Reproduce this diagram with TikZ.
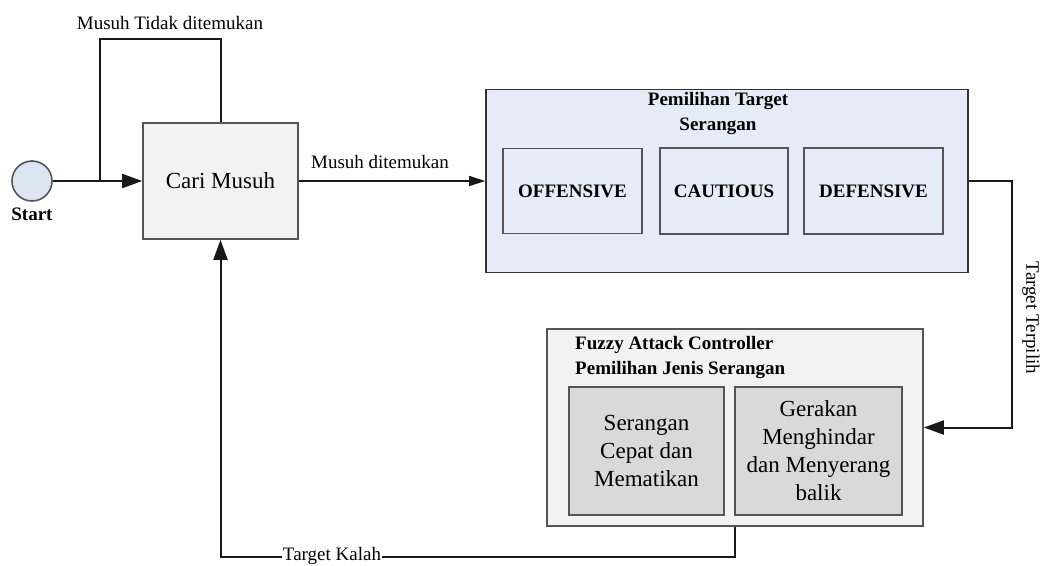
\documentclass[tikz,border=0pt]{standalone}
\usepackage{fontspec}
\setmainfont{Liberation Serif}
\usetikzlibrary{arrows.meta}

\definecolor{pilihblue}{HTML}{E6ECF7}
\definecolor{startblue}{HTML}{DCE6F2}
\definecolor{boxgray}{HTML}{F2F2F2}
\definecolor{innergray}{HTML}{D9D9D9}
\definecolor{edgegray}{HTML}{555555}

\tikzset{
	flow/.style={line width=2pt,draw=black!90},
	tipbesar/.style={-{Triangle[length=20pt,width=14pt]}},
	tipkecil/.style={-{Triangle[length=16pt,width=10pt]}},
	kotak/.style={draw=edgegray,line width=1.6pt,inner sep=0pt},
	labelteks/.style={font=\fontsize{19}{23}\selectfont},
	judul/.style={font=\fontsize{19}{25}\selectfont\bfseries},
	isi/.style={font=\fontsize{23}{28}\selectfont,align=center},
}

\begin{document}
\begin{tikzpicture}[x=1pt,y=-1pt]
	\useasboundingbox (0,0) rectangle (1041,565);
	% mulai dan cari musuh
	\node[circle,draw=edgegray,line width=1.6pt,fill=startblue,minimum size=40pt,inner sep=0pt] (start) at (32,181) {};
	\node[judul] (startlbl) at (32,214) {Start};
	\node[kotak,fill=boxgray,minimum width=155pt,minimum height=116pt,isi] (cari) at (220.5,181) {Cari Musuh};
	\coordinate (cabang) at (100,181);
	\coordinate (atas) at (100,39);
	% pemilihan target
	\node[kotak,draw=black!80,fill=pilihblue,minimum width=482pt,minimum height=183pt] (pilih) at (727,181) {};
	\node[judul,align=center] (pilihjudul) at (718,114) {Pemilihan Target\\Serangan};
	\node[kotak,fill=pilihblue,minimum width=139pt,minimum height=85pt,judul] (off) at (572.5,191) {OFFENSIVE};
	\node[kotak,fill=pilihblue,minimum width=128pt,minimum height=86pt,judul] (cau) at (724,191) {CAUTIOUS};
	\node[kotak,fill=pilihblue,minimum width=139pt,minimum height=86pt,judul] (def) at (873.5,191) {DEFENSIVE};
	% fuzzy attack controller
	\node[kotak,fill=boxgray,minimum width=376pt,minimum height=197pt] (fuzzy) at (735,427.5) {};
	\node[judul,align=left,anchor=north west,inner sep=0pt] (fuzzyjudul) at (575,336) {Fuzzy Attack Controller\\Pemilihan Jenis Serangan};
	\node[kotak,fill=innergray,minimum width=155pt,minimum height=128pt,isi] (cepat) at (646.5,451) {Serangan\\Cepat dan\\Mematikan};
	\node[kotak,fill=innergray,minimum width=167pt,minimum height=128pt,isi] (hindar) at (818.5,451) {Gerakan\\Menghindar\\dan Menyerang\\balik};
	\coordinate (kanan) at (1012,181);
	\coordinate (bawah) at (735,557);

	% konektor
	\draw[flow,tipbesar] (start) -- (cari);
	\draw[flow] (cabang) -- (atas) -| (cari.north);
	\node[labelteks] (tidak) at (170,23) {Musuh Tidak ditemukan};
	\draw[line width=1.5pt,draw=black!90,tipkecil] (cari) -- (pilih);
	\node[labelteks] (ketemu) at (380,162) {Musuh ditemukan};
	\draw[flow,tipbesar] (pilih.east) -- (kanan) |- (fuzzy.east);
	\node[labelteks,rotate=-90,inner sep=0pt] (terpilih) at (1031,318) {Target Terpilih};
	\draw[flow,tipbesar] (fuzzy.south) -- (bawah) -| (cari.south);
	\node[labelteks,fill=white,inner sep=1pt] (kalah) at (332,556) {Target Kalah};
\end{tikzpicture}
\end{document}
